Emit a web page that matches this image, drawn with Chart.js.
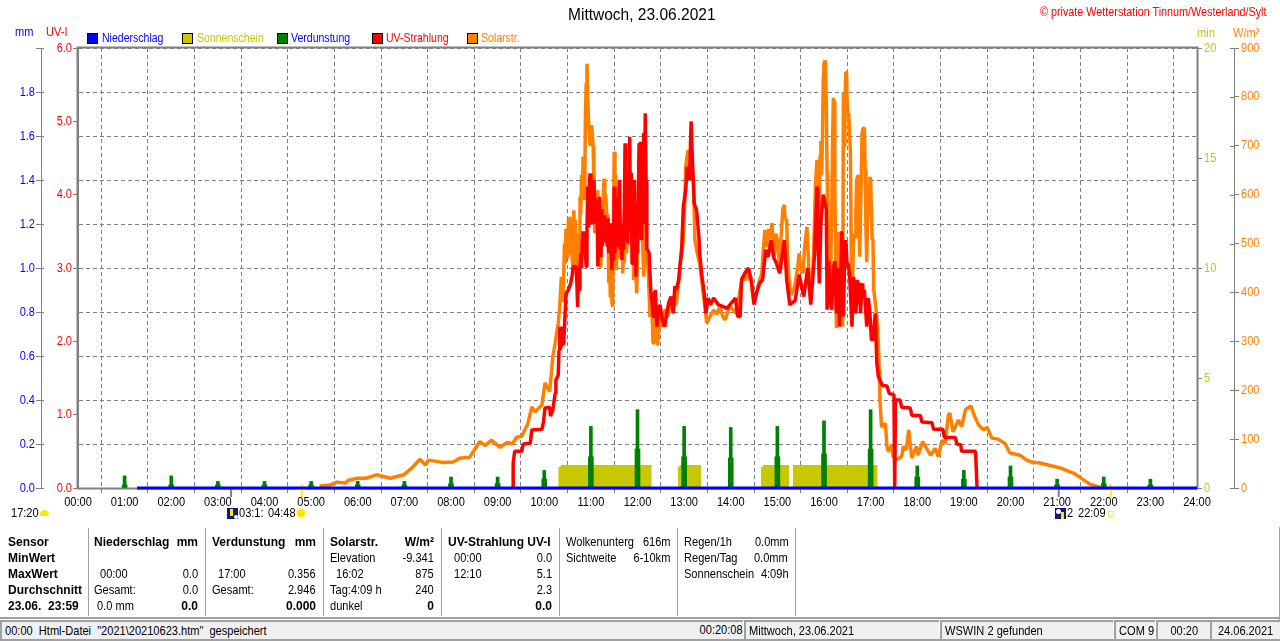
<!DOCTYPE html>
<html>
<head>
<meta charset="utf-8">
<title>Wetterstation Tinnum 23.06.2021</title>
<script src="https://cdn.jsdelivr.net/npm/chart.js@4/dist/chart.umd.js"></script>
<style>
  html, body { margin: 0; padding: 0; background: #fff; }
  #page { position: relative; width: 1280px; height: 641px; overflow: hidden; font: 13px "Liberation Sans", sans-serif; color: #000; }
  #page canvas { position: absolute; left: 0; top: 0; }
  .t { position: absolute; white-space: pre; line-height: 16px; transform: scaleX(.85); transform-origin: left center; }
  .r { position: absolute; white-space: pre; line-height: 16px; text-align: right; transform: scaleX(.85); transform-origin: right center; }
  .leg { transform: scaleX(.81); }
  .b { font: bold 12px "Liberation Sans", sans-serif; line-height: 16px; transform: none; }
  .box { position: absolute; width: 9px; height: 9px; top: 33px; border: 1px solid #000; }
  .sep { position: absolute; top: 528px; width: 1px; height: 88px; background: #a0a0a0; }
  .cell { position: absolute; top: 620px; height: 17px; background: #f0f0f0; border-top: 2px solid #a0a0a0; border-left: 2px solid #a0a0a0; line-height: 17px; white-space: pre; }
  .cell span { display: inline-block; transform: scaleX(.85); transform-origin: left center; }
  .mid { text-align: center; }
  .mid span { transform-origin: center center; }
</style>
</head>
<body>
<div id="page">
  <canvas id="chart" width="1280" height="641"></canvas>

  <div class="t" style="left:568px;top:7px;font-size:16px;transform:scaleX(.97)">Mittwoch, 23.06.2021</div>
  <div class="t" style="left:1040px;top:4px;color:#f00;transform:scaleX(.83)">© private Wetterstation Tinnum/Westerland/Sylt</div>

  <div class="t" style="left:15px;top:24px;color:#00f">mm</div>
  <div class="t" style="left:46px;top:24px;color:#f00">UV-I</div>
  <div class="t" style="left:1197px;top:25px;color:#c8c800">min</div>
  <div class="t" style="left:1233px;top:25px;color:#ff8000">W/m²</div>

  <div class="box" style="left:87px;background:#00f"></div>
  <div class="t leg" style="left:102px;top:30px;color:#00f">Niederschlag</div>
  <div class="box" style="left:182px;background:#c8c800"></div>
  <div class="t leg" style="left:197px;top:30px;color:#c8c800">Sonnenschein</div>
  <div class="box" style="left:277px;background:#008000"></div>
  <div class="t leg" style="left:291px;top:30px;color:#00f">Verdunstung</div>
  <div class="box" style="left:372px;background:#f00"></div>
  <div class="t leg" style="left:386px;top:30px;color:#f00">UV-Strahlung</div>
  <div class="box" style="left:467px;background:#ff8000"></div>
  <div class="t leg" style="left:481px;top:30px;color:#ff8000">Solarstr.</div>

  <!-- Sonnen- und Mondzeiten unter der Zeitachse -->
  <div class="t" style="left:11px;top:505px">17:20</div>
  <div style="position:absolute;left:40px;top:510px;width:9px;height:6px;background:#ffe800;border-radius:5px 5px 0 0"></div>
  <div style="position:absolute;left:227px;top:508px;width:11px;height:11px;background:#101880"></div>
  <div style="position:absolute;left:230px;top:509px;width:3px;height:7px;background:#ffe800"></div>
  <div style="position:absolute;left:234px;top:515px;width:4px;height:4px;background:#fff;border-radius:2px"></div>
  <div class="t" style="left:239px;top:505px">03:1:</div>
  <div class="t" style="left:268px;top:505px">04:48</div>
  <div style="position:absolute;left:297px;top:509px;width:8px;height:8px;background:#ffe800;border-radius:4px;box-shadow:0 0 2px 1px #fff080"></div>
  <div style="position:absolute;left:1055px;top:508px;width:11px;height:11px;background:#101880"></div>
  <div style="position:absolute;left:1061px;top:512px;width:3px;height:7px;background:#ffe800"></div>
  <div style="position:absolute;left:1056px;top:509px;width:5px;height:5px;background:#fff;border-radius:3px"></div>
  <div class="t" style="left:1067px;top:505px">2</div>
  <div class="t" style="left:1078px;top:505px">22:09</div>
  <div style="position:absolute;left:1108px;top:511px;width:4px;height:4px;border:1px solid #f0f060"></div>

  <!-- Tabelle -->
  <div class="sep" style="left:88px"></div>
  <div class="sep" style="left:205px"></div>
  <div class="sep" style="left:323px"></div>
  <div class="sep" style="left:441px"></div>
  <div class="sep" style="left:559px"></div>
  <div class="sep" style="left:677px"></div>
  <div class="sep" style="left:795px"></div>

  <div class="t b" style="left:8px;top:534px">Sensor</div>
  <div class="t b" style="left:8px;top:550px">MinWert</div>
  <div class="t b" style="left:8px;top:566px">MaxWert</div>
  <div class="t b" style="left:8px;top:582px">Durchschnitt</div>
  <div class="t b" style="left:8px;top:598px">23.06.  23:59</div>

  <div class="t b" style="left:94px;top:534px">Niederschlag</div>
  <div class="r b" style="right:1082px;top:534px">mm</div>
  <div class="t" style="left:100px;top:566px">00:00</div>
  <div class="r" style="right:1082px;top:566px">0.0</div>
  <div class="t" style="left:94px;top:582px">Gesamt:</div>
  <div class="r" style="right:1082px;top:582px">0.0</div>
  <div class="t" style="left:97px;top:598px">0.0 mm</div>
  <div class="r b" style="right:1082px;top:598px">0.0</div>

  <div class="t b" style="left:212px;top:534px">Verdunstung</div>
  <div class="r b" style="right:964px;top:534px">mm</div>
  <div class="t" style="left:218px;top:566px">17:00</div>
  <div class="r" style="right:964px;top:566px">0.356</div>
  <div class="t" style="left:212px;top:582px">Gesamt:</div>
  <div class="r" style="right:964px;top:582px">2.946</div>
  <div class="r b" style="right:964px;top:598px">0.000</div>

  <div class="t b" style="left:330px;top:534px">Solarstr.</div>
  <div class="r b" style="right:846px;top:534px">W/m²</div>
  <div class="t" style="left:330px;top:550px">Elevation</div>
  <div class="r" style="right:846px;top:550px">-9.341</div>
  <div class="t" style="left:336px;top:566px">16:02</div>
  <div class="r" style="right:846px;top:566px">875</div>
  <div class="t" style="left:330px;top:582px">Tag:4:09 h</div>
  <div class="r" style="right:846px;top:582px">240</div>
  <div class="t" style="left:330px;top:598px">dunkel</div>
  <div class="r b" style="right:846px;top:598px">0</div>

  <div class="t b" style="left:448px;top:534px">UV-Strahlung UV-I</div>
  <div class="t" style="left:454px;top:550px">00:00</div>
  <div class="r" style="right:728px;top:550px">0.0</div>
  <div class="t" style="left:454px;top:566px">12:10</div>
  <div class="r" style="right:728px;top:566px">5.1</div>
  <div class="r" style="right:728px;top:582px">2.3</div>
  <div class="r b" style="right:728px;top:598px">0.0</div>

  <div class="t" style="left:566px;top:534px">Wolkenunterg</div>
  <div class="r" style="right:609px;top:534px">616m</div>
  <div class="t" style="left:566px;top:550px">Sichtweite</div>
  <div class="r" style="right:610px;top:550px">6-10km</div>

  <div class="t" style="left:684px;top:534px">Regen/1h</div>
  <div class="r" style="right:491px;top:534px">0.0mm</div>
  <div class="t" style="left:684px;top:550px">Regen/Tag</div>
  <div class="r" style="right:492px;top:550px">0.0mm</div>
  <div class="t" style="left:684px;top:566px">Sonnenschein</div>
  <div class="r" style="right:491px;top:566px">4:09h</div>

  <!-- Statusleiste -->
  <div style="position:absolute;left:0;top:617px;width:1280px;height:2px;background:#a0a0a0"></div>
  <div style="position:absolute;left:0;top:639px;width:1280px;height:2px;background:#a0a0a0"></div>
  <div style="position:absolute;left:1279px;top:527px;width:1px;height:114px;background:#a0a0a0"></div>
  <div class="cell" style="left:0;width:741px"><span> 00:00  Html-Datei  "2021\20210623.htm"  gespeichert</span></div>
  <div class="r" style="right:537px;top:621px;line-height:17px">00:20:08</div>
  <div class="cell" style="left:744px;width:193px"><span> Mittwoch, 23.06.2021</span></div>
  <div class="cell" style="left:940px;width:171px"><span> WSWIN 2 gefunden</span></div>
  <div class="cell mid" style="left:1114px;width:39px"><span>COM 9</span></div>
  <div class="cell mid" style="left:1156px;width:52px"><span>00:20</span></div>
  <div class="cell mid" style="left:1210px;width:68px"><span>24.06.2021</span></div>
</div>

<script>
// Zeitachse
const hourLabels = ['00:00','01:00','02:00','03:00','04:00','05:00','06:00','07:00','08:00','09:00','10:00','11:00','12:00',
  '13:00','14:00','15:00','16:00','17:00','18:00','19:00','20:00','21:00','22:00','23:00','24:00'];

// Solarstrahlung W/m2, Zeit in Minuten seit Mitternacht
const solarMinutes = [
  311,324,333,344,348,359,371,384,402,419,
  429,440,447,451,470,483,491,504,517,524,
  532,543,552,559,565,571,579,584,588,597,
  601,607,611,614,618,620,
  622,624,625,626,627,628,629,630,631,632,
  633,634,635,636,637,638,639,640,641,642,
  643,644,645,646,647,648,649,650,651,652,
  653,654,655,656,657,659,661,662,663,664,
  665,666,667,668,669,670,671,672,673,674,
  675,676,677,678,679,680,681,682,683,684,
  685,686,687,688,689,690,691,692,693,694,
  695,696,697,698,699,700,701,702,703,704,
  705,706,707,708,709,710,711,712,713,714,
  715,717,719,721,723,725,727,728,730,732,
  734,736,738,740,741,743,745,746,748,749,
  751,753,756,759,762,766,770,773,775,777,
  779,781,782,784,785,787,789,791,792,793,
  794,797,800,803,805,807,809,813,818,822,
  826,830,833,836,839,843,846,849,852,855,
  858,861,864,866,868,870,872,874,877,880,
  882,884,885,887,889,891,893,895,896,898,
  900,902,903,905,907,909,910,912,913,915,
  916,918,921,923,926,928,930,933,935,938,
  940,941,943,944,946,948,949,951,952,953,
  954,955,956,957,958,959,960,961,962,963,
  964,965,966,967,968,969,970,971,972,973,
  974,975,976,977,978,979,980,981,982,983,
  984,985,986,987,988,989,990,991,992,993,
  994,995,996,997,998,999,1000,1001,1002,1003,
  1004,1005,1006,1007,1008,1009,1010,1011,1012,1013,
  1014,1015,1016,1017,1018,1019,1020,1021,1022,1023,
  1024,1026,1028,1030,1031,1032,1034,1039,1041,1043,
  1047,1049,1054,1060,1062,1066,1069,1073,1079,1081,
  1087,1092,1097,1103,1107,1112,1116,1120,1122,1126,
  1133,1137,1142,1149,1154,1159,1165,1170,1176,1184,
  1193,1199,1212,1221,1227,1238,1264,1283,1302,1318
];
const solarValues = [
  4,6,12,10,16,20,20,27,20,27,
  40,59,47,57,52,53,61,63,95,87,
  98,83,93,91,104,106,132,166,156,170,
  215,197,268,296,337,371,
  432,380,436,500,459,530,500,470,548,480,
  555,520,500,470,453,568,520,548,470,487,
  440,432,520,596,560,640,600,678,620,589,
  760,828,868,800,746,700,742,720,698,600,
  521,590,540,609,540,500,560,453,540,580,
  500,600,633,560,600,575,500,560,419,500,
  390,480,380,371,520,688,560,640,446,560,
  480,570,470,555,470,520,439,500,460,540,
  548,480,560,500,570,575,500,590,603,520,
  425,470,398,560,705,600,487,432,560,470,
  439,350,400,296,360,344,300,292,340,364,
  330,350,365,350,378,370,378,420,459,480,
  507,590,657,680,691,650,671,640,637,560,
  507,480,459,420,391,370,337,350,364,355,
  371,350,344,360,371,365,357,375,405,432,
  425,442,425,432,400,378,395,405,425,439,
  490,528,500,493,530,510,542,500,473,520,
  507,470,459,520,570,579,550,548,480,425,
  410,395,405,419,450,480,450,439,490,534,
  470,420,391,420,453,560,620,671,560,640,
  568,680,710,640,712,830,870,875,870,780,
  644,560,460,400,371,487,560,700,798,790,
  609,480,327,420,490,523,520,500,515,400,
  330,808,700,790,851,850,780,767,760,720,
  690,500,364,440,510,520,513,560,630,636,
  640,540,473,560,640,730,736,736,736,650,
  530,462,540,580,620,636,630,570,510,507,
  405,380,350,296,241,180,125,132,85,74,
  88,64,59,64,85,78,119,61,85,67,
  95,81,67,81,64,98,91,149,153,115,
  139,125,160,168,146,129,119,124,102,100,
  91,72,67,57,53,51,41,29,8,0
];

// UV-Index
const uvMinutes = [
  560,560,562,571,573,582,584,597,599,601,
  607,608,611,614,615,618,619,620,621,622,
  623,624,625,628,631,634,636,637,641,642,
  643,644,645,646,647,648,649,650,651,652,
  653,654,655,656,657,658,659,660,661,662,
  663,664,665,666,667,668,669,670,671,672,
  673,674,675,676,677,678,679,680,681,682,
  683,684,685,686,687,688,689,690,691,692,
  693,694,695,696,697,698,699,700,701,702,
  703,704,705,706,707,708,709,710,711,712,
  713,714,715,716,717,718,719,720,721,722,
  723,724,725,726,727,728,729,730,731,732,
  733,735,737,739,740,741,743,745,747,749,
  752,755,758,760,763,766,768,770,773,775,
  777,779,782,784,787,789,791,793,796,799,
  800,803,806,808,811,814,818,824,831,835,
  839,846,849,852,854,858,863,867,870,873,
  877,881,885,888,892,895,899,903,909,912,
  916,923,928,934,939,943,948,951,952,954,
  956,958,959,961,963,964,966,968,970,972,
  974,976,978,980,983,985,987,988,990,991,
  993,996,998,1000,1001,1003,1004,1006,1007,1009,
  1010,1012,1015,1017,1019,1021,1023,1026,1028,1030,
  1035,1041,1044,1050,1051,1052,1058,1060,1071,1073,
  1084,1086,1099,1101,1113,1115,1129,1131,1136,1137,
  1155,1156,1157
];
const uvValues = [
  0,0.34,0.50,0.50,0.60,0.61,0.79,0.80,0.90,1.09,
  1.10,0.98,1.06,1.29,1.47,1.54,1.88,2.20,1.90,2.20,
  1.95,2.15,1.95,2.65,2.70,2.79,2.90,3.02,3.02,2.80,
  2.47,2.90,2.70,3.00,3.20,3.00,3.40,3.50,3.30,3.45,
  3.20,3.02,3.52,4.11,3.55,4.20,4.29,3.60,3.70,4.05,
  3.62,4.20,3.70,3.95,3.61,3.85,3.02,3.55,3.97,3.25,
  3.15,3.80,3.30,3.70,3.40,3.72,3.35,3.65,3.30,3.68,
  3.20,3.55,3.20,3.61,2.97,3.50,3.10,4.11,3.20,3.95,
  3.29,3.70,3.30,3.95,4.20,3.25,3.60,3.11,3.55,3.25,
  3.80,4.70,3.60,4.30,3.34,3.90,3.50,4.79,3.60,4.30,
  3.06,3.55,3.20,4.20,3.30,2.88,3.50,3.20,3.90,4.70,
  3.50,4.72,3.38,4.50,3.60,4.84,4.10,5.11,4.20,3.25,
  3.25,3.20,2.70,2.50,2.34,2.60,2.70,2.20,2.40,2.50,
  2.29,2.20,2.40,2.52,2.61,2.38,2.75,2.70,2.84,3.06,
  3.29,3.84,4.06,4.38,4.20,5.00,4.38,3.88,3.79,3.43,
  3.20,2.88,2.65,2.38,2.59,2.50,2.59,2.50,2.47,2.45,
  2.50,2.59,2.34,2.34,2.84,2.93,3.00,2.79,2.50,2.65,
  2.79,2.84,3.25,3.15,3.38,3.15,3.06,2.93,3.38,2.84,
  2.50,2.56,2.91,2.61,3.00,2.50,3.20,4.11,3.50,2.79,
  3.60,3.90,4.00,3.90,3.79,2.43,3.10,2.60,2.43,3.00,
  3.09,2.38,3.00,2.20,3.50,2.34,3.30,3.38,3.00,3.06,
  2.90,2.20,2.88,2.60,2.38,2.84,2.50,2.80,2.38,2.79,
  2.60,2.70,2.20,2.59,2.40,2.02,2.02,2.38,1.70,1.52,
  1.40,1.39,1.29,1.27,0,1.20,1.20,1.10,1.09,0.99,
  0.99,0.90,0.89,0.80,0.80,0.69,0.69,0.60,0.59,0.50,
  0.50,0.25,0
];

// Sonnenschein, min
const sunMinutes = [618,618,621,621,738,738,772,772,774,774,802,802,879,879,881,881,915,915,920,920,1029,1029];
const sunValues = [0,0.95,0.95,1.05,1.05,0,0,0.95,0.95,1.05,1.05,0,0,0.95,0.95,1.05,1.05,0,0,1.05,1.05,0];

// Verdunstung, mm: Spitzenwert und breiter Sockel je Stunde
const evapMinutes = [60,120,180,240,300,360,420,480,540,600,660,720,780,840,900,960,1020,1080,1140,1200,1260,1320,1380];
const evapPeaks = [0.055,0.055,0.03,0.03,0.03,0.03,0.03,0.05,0.05,0.08,0.28,0.356,0.28,0.275,0.28,0.305,0.356,0.10,0.08,0.10,0.04,0.05,0.04];
const evapBase = [0.014,0.014,0.014,0.014,0.014,0.014,0.014,0.02,0.02,0.04,0.142,0.177,0.142,0.136,0.142,0.155,0.177,0.05,0.04,0.05,0.014,0.02,0.014];

// Niederschlag, mm
const rainMinutes = [76,1440];
const rainValues = [0,0];

// Auf- und Untergang: Mond grau, Sonne gelb
const moonMinutes = [197,1262];
const sunEventMinutes = [288,1329];

const zip = (xs, ys) => xs.map((x, i) => ({ x: x, y: ys[i] }));

const GREY = '#808080';
const NARROW = 0.85;

// Liberation Sans ist breiter als die Schrift im Original, darum schmal gestaucht
function narrowText(ctx, text, x, y, align, color) {
  ctx.save();
  ctx.translate(x, y);
  ctx.scale(NARROW, 1);
  ctx.font = '13px "Liberation Sans", sans-serif';
  ctx.textAlign = align;
  ctx.textBaseline = 'middle';
  ctx.fillStyle = color;
  ctx.fillText(text, 0, 0);
  ctx.restore();
}

const framePlugin = {
  id: 'frame',
  beforeDatasetsDraw(chart) {
    const { ctx, chartArea: a, scales } = chart;
    ctx.save();
    ctx.strokeStyle = GREY;
    ctx.lineWidth = 2;
    ctx.strokeRect(a.left - 0.5, a.top - 0.5, a.right - a.left + 1, a.bottom - a.top + 1);
    moonMinutes.forEach(m => {
      const x = scales.x.getPixelForValue(m);
      ctx.beginPath(); ctx.moveTo(x, a.bottom); ctx.lineTo(x, a.bottom + 9); ctx.stroke();
    });
    ctx.strokeStyle = '#ffee00';
    sunEventMinutes.forEach(m => {
      const x = scales.x.getPixelForValue(m);
      ctx.beginPath(); ctx.moveTo(x, a.bottom - 4); ctx.lineTo(x, a.bottom + 9); ctx.stroke();
    });
    // Teilstriche auf den beiden aeusseren Achsen gehen durch die Achse hindurch
    ctx.strokeStyle = GREY;
    ctx.lineWidth = 1;
    scales.mm.ticks.forEach(t => {
      const y = Math.round(scales.mm.getPixelForValue(t.value)) + 0.5;
      ctx.beginPath(); ctx.moveTo(scales.mm.right, y); ctx.lineTo(scales.mm.right + 3, y); ctx.stroke();
    });
    scales.watt.ticks.forEach(t => {
      const y = Math.round(scales.watt.getPixelForValue(t.value)) + 0.5;
      ctx.beginPath(); ctx.moveTo(scales.watt.left - 4, y); ctx.lineTo(scales.watt.left, y); ctx.stroke();
    });
    ctx.restore();
  },
  afterDraw(chart) {
    const { ctx, chartArea: a, scales } = chart;
    scales.x.ticks.forEach(t => narrowText(ctx, t.label, scales.x.getPixelForValue(t.value), a.bottom + 14, 'center', '#000'));
    scales.mm.ticks.forEach(t => narrowText(ctx, t.label, scales.mm.right - 6, scales.mm.getPixelForValue(t.value), 'right', '#0000ff'));
    scales.uv.ticks.forEach(t => narrowText(ctx, t.label, scales.uv.right - 6, scales.uv.getPixelForValue(t.value), 'right', '#ff0000'));
    scales.min.ticks.forEach(t => narrowText(ctx, t.label, scales.min.left + 7, scales.min.getPixelForValue(t.value), 'left', '#c8c800'));
    scales.watt.ticks.forEach(t => narrowText(ctx, t.label, scales.watt.left + 7, scales.watt.getPixelForValue(t.value), 'left', '#ff8000'));
  }
};

function yAxis(position, weight, min, max, step, width, format, grid, border) {
  return {
    type: 'linear',
    position: position,
    weight: weight,
    min: min,
    max: max,
    afterFit(scale) { scale.width = width; },
    border: border || { color: GREY, width: 1 },
    grid: grid || { drawOnChartArea: false, tickColor: GREY, tickLength: 5 },
    ticks: { display: false, stepSize: step, callback: format }
  };
}

new Chart(document.getElementById('chart').getContext('2d'), {
  type: 'line',
  plugins: [framePlugin],
  data: {
    datasets: [
      { label: 'Niederschlag', data: zip(rainMinutes, rainValues), yAxisID: 'mm', borderColor: '#0000ff', borderWidth: 3, order: 0, clip: false, pointRadius: 0 },
      { label: 'UV-Strahlung', data: zip(uvMinutes, uvValues), yAxisID: 'uv', borderColor: '#ff0000', borderWidth: 3.5, borderJoinStyle: 'bevel', order: 1, clip: false, pointRadius: 0 },
      { label: 'Solarstr.', data: zip(solarMinutes, solarValues), yAxisID: 'watt', borderColor: '#ff8000', borderWidth: 3.5, borderJoinStyle: 'bevel', order: 2, clip: false, pointRadius: 0 },
      { label: 'Verdunstung', type: 'bar', data: zip(evapMinutes, evapPeaks), yAxisID: 'mm', backgroundColor: '#008000', barThickness: 3, grouped: false, order: 3 },
      { label: 'Verdunstung Sockel', type: 'bar', data: zip(evapMinutes, evapBase), yAxisID: 'mm', backgroundColor: '#008000', barThickness: 5, grouped: false, order: 3 },
      { label: 'Sonnenschein', data: zip(sunMinutes, sunValues), yAxisID: 'min', borderWidth: 0, backgroundColor: '#c8c800', fill: 'origin', order: 4, pointRadius: 0 }
    ]
  },
  options: {
    responsive: false,
    animation: false,
    layout: { padding: { top: 48, left: 0, right: 0, bottom: 0 } },
    plugins: { legend: { display: false }, tooltip: { enabled: false } },
    scales: {
      x: {
        type: 'linear',
        min: 0,
        max: 1440,
        offset: false,
        afterFit(scale) { scale.height = 153; },
        border: { display: false, dash: [4, 3] },
        grid: { color: GREY, tickColor: GREY, tickLength: 5 },
        ticks: { display: false, stepSize: 60, autoSkip: false, maxRotation: 0, callback: v => hourLabels[v / 60] }
      },
      mm: yAxis('left', 2, 0, 2, 0.2, 41, v => (v >= 2 ? '' : v.toFixed(1)),
        { drawOnChartArea: true, color: GREY, tickColor: GREY, tickLength: 5 },
        { color: GREY, width: 1, dash: [4, 3] }),
      uv: yAxis('left', 1, 0, 6, 1, 37, v => v.toFixed(1)),
      min: yAxis('right', 1, 0, 20, 5, 37, v => String(v)),
      watt: yAxis('right', 2, 0, 900, 100, 46, v => String(v))
    }
  }
});
</script>
</body>
</html>
